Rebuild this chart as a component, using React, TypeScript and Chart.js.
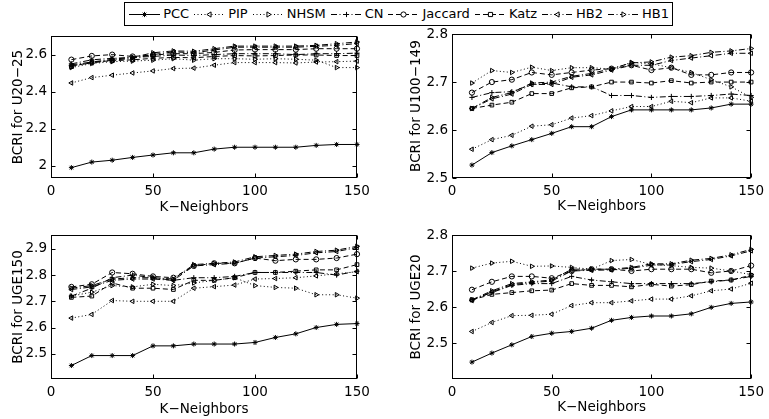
import React, { useEffect, useRef } from "react";
import { Chart, registerables } from "chart.js";

Chart.register(...registerables);

const FONT_FAMILY = "'DejaVu Sans', sans-serif";
const FONT_SIZE = 13.5;
const LEGEND_FONT_SIZE = 13;

// ---------------- DATA ----------------
const kNeighbors = [10, 20, 30, 40, 50, 60, 70, 80, 90, 100, 110, 120, 130, 140, 150];
const seriesNames = ["PCC", "PIP", "NHSM", "CN", "Jaccard", "Katz", "HB2", "HB1"];
const xTickValues = [0, 50, 100, 150];

// Panel 1: U20-25
const pccU20 = [1.99, 2.02, 2.03, 2.045, 2.058, 2.07, 2.07, 2.09, 2.1, 2.1, 2.1, 2.1, 2.11, 2.115, 2.115];
const pipU20 = [2.447, 2.476, 2.489, 2.501, 2.512, 2.525, 2.527, 2.543, 2.557, 2.557, 2.557, 2.555, 2.56, 2.562, 2.565];
const nhsmU20 = [2.53, 2.552, 2.562, 2.565, 2.57, 2.578, 2.57, 2.578, 2.578, 2.575, 2.578, 2.575, 2.57, 2.53, 2.53];
const cnU20 = [2.55, 2.572, 2.58, 2.585, 2.59, 2.598, 2.595, 2.6, 2.605, 2.605, 2.605, 2.6, 2.605, 2.605, 2.608];
const jaccardU20 = [2.573, 2.593, 2.6, 2.59, 2.598, 2.605, 2.605, 2.612, 2.625, 2.627, 2.627, 2.627, 2.632, 2.632, 2.632];
const katzU20 = [2.535, 2.56, 2.567, 2.572, 2.58, 2.585, 2.583, 2.59, 2.595, 2.593, 2.595, 2.598, 2.598, 2.595, 2.595];
const hb2U20 = [2.54, 2.555, 2.57, 2.58, 2.6, 2.615, 2.61, 2.625, 2.64, 2.64, 2.64, 2.64, 2.645, 2.65, 2.66];
const hb1U20 = [2.545, 2.56, 2.575, 2.585, 2.61, 2.62, 2.618, 2.632, 2.646, 2.646, 2.646, 2.646, 2.65, 2.659, 2.668];
const yTicksU20 = [2, 2.2, 2.4, 2.6];

// Panel 2: U100-149
const pccU100 = [2.527, 2.553, 2.567, 2.58, 2.593, 2.607, 2.607, 2.628, 2.642, 2.642, 2.642, 2.642, 2.646, 2.654, 2.654];
const pipU100 = [2.56, 2.58, 2.589, 2.608, 2.611, 2.625, 2.63, 2.64, 2.649, 2.649, 2.66, 2.657, 2.667, 2.667, 2.66];
const nhsmU100 = [2.698, 2.724, 2.72, 2.731, 2.724, 2.73, 2.73, 2.727, 2.741, 2.738, 2.73, 2.72, 2.705, 2.69, 2.668];
const cnU100 = [2.668, 2.678, 2.68, 2.695, 2.698, 2.69, 2.69, 2.672, 2.672, 2.668, 2.67, 2.67, 2.672, 2.675, 2.672];
const jaccardU100 = [2.678, 2.7, 2.705, 2.72, 2.715, 2.72, 2.725, 2.728, 2.735, 2.725, 2.73, 2.715, 2.715, 2.72, 2.72];
const katzU100 = [2.645, 2.652, 2.658, 2.676, 2.676, 2.688, 2.69, 2.7, 2.7, 2.698, 2.703, 2.698, 2.7, 2.7, 2.7];
const hb2U100 = [2.645, 2.665, 2.675, 2.695, 2.695, 2.71, 2.715, 2.725, 2.735, 2.735, 2.745, 2.75, 2.755, 2.76, 2.76];
const hb1U100 = [2.645, 2.668, 2.678, 2.698, 2.7, 2.712, 2.718, 2.728, 2.74, 2.742, 2.752, 2.755, 2.762, 2.765, 2.77];
const yTicksU100 = [2.5, 2.6, 2.7, 2.8];

// Panel 3: UGE150
const pccUGE150 = [2.455, 2.493, 2.493, 2.493, 2.53, 2.53, 2.537, 2.537, 2.537, 2.543, 2.562, 2.576, 2.6, 2.612, 2.615];
const pipUGE150 = [2.636, 2.65, 2.703, 2.7, 2.7, 2.7, 2.75, 2.756, 2.762, 2.785, 2.787, 2.79, 2.797, 2.805, 2.813];
const nhsmUGE150 = [2.72, 2.735, 2.76, 2.755, 2.765, 2.76, 2.77, 2.78, 2.79, 2.76, 2.753, 2.75, 2.725, 2.725, 2.712];
const cnUGE150 = [2.72, 2.75, 2.79, 2.8, 2.79, 2.78, 2.79, 2.79, 2.795, 2.81, 2.81, 2.81, 2.81, 2.8, 2.815];
const jaccardUGE150 = [2.755, 2.765, 2.81, 2.805, 2.795, 2.79, 2.835, 2.845, 2.845, 2.865, 2.855, 2.86, 2.86, 2.865, 2.88];
const katzUGE150 = [2.715, 2.72, 2.77, 2.75, 2.75, 2.745, 2.78, 2.78, 2.79, 2.81, 2.81, 2.815, 2.82, 2.82, 2.84];
const hb2UGE150 = [2.745, 2.755, 2.78, 2.785, 2.785, 2.78, 2.835, 2.84, 2.845, 2.865, 2.87, 2.875, 2.885, 2.89, 2.905];
const hb1UGE150 = [2.75, 2.76, 2.785, 2.79, 2.79, 2.785, 2.84, 2.845, 2.85, 2.87, 2.875, 2.88, 2.89, 2.895, 2.91];
const yTicksUGE150 = [2.5, 2.6, 2.7, 2.8, 2.9];

// Panel 4: UGE20
const pccUGE20 = [2.447, 2.472, 2.495, 2.518, 2.527, 2.532, 2.541, 2.563, 2.571, 2.575, 2.575, 2.581, 2.599, 2.61, 2.614];
const pipUGE20 = [2.532, 2.557, 2.576, 2.577, 2.58, 2.604, 2.612, 2.612, 2.617, 2.622, 2.622, 2.631, 2.645, 2.65, 2.666];
const nhsmUGE20 = [2.708, 2.722, 2.727, 2.713, 2.714, 2.71, 2.705, 2.729, 2.732, 2.718, 2.715, 2.71, 2.708, 2.7, 2.69];
const cnUGE20 = [2.62, 2.64, 2.66, 2.665, 2.665, 2.685, 2.675, 2.67, 2.665, 2.665, 2.665, 2.665, 2.67, 2.675, 2.685];
const jaccardUGE20 = [2.648, 2.67, 2.685, 2.685, 2.68, 2.7, 2.705, 2.705, 2.7, 2.705, 2.705, 2.705, 2.695, 2.7, 2.715];
const katzUGE20 = [2.62, 2.635, 2.64, 2.645, 2.647, 2.665, 2.66, 2.66, 2.656, 2.663, 2.658, 2.662, 2.672, 2.675, 2.688];
const hb2UGE20 = [2.618, 2.642, 2.662, 2.668, 2.672, 2.7, 2.702, 2.703, 2.708, 2.716, 2.718, 2.726, 2.732, 2.742, 2.756];
const hb1UGE20 = [2.62, 2.645, 2.665, 2.67, 2.675, 2.705, 2.705, 2.705, 2.71, 2.72, 2.72, 2.73, 2.735, 2.745, 2.76];
const yTicksUGE20 = [2.5, 2.6, 2.7, 2.8];

// ---------------- STYLES ----------------
type SeriesStyle = { dash: number[]; point: string; rot: number };
const seriesStyles: SeriesStyle[] = [
  { dash: [], point: "star", rot: 0 },
  { dash: [1, 2.5], point: "triangle", rot: 270 },
  { dash: [1, 2.5], point: "triangle", rot: 90 },
  { dash: [6, 2.5, 1, 2.5], point: "cross", rot: 0 },
  { dash: [5, 3], point: "circle", rot: 0 },
  { dash: [5, 3], point: "rect", rot: 0 },
  { dash: [6, 2.5, 1, 2.5], point: "triangle", rot: 270 },
  { dash: [6, 2.5, 1, 2.5], point: "triangle", rot: 90 },
];

type Geo = {
  cx: number; cy: number; w: number; h: number;
  L: number; T: number; R: number; B: number;
  yTitleX: number; xTitleY: number;
};

type Panel = {
  yLabel: string;
  yMin: number;
  yMax: number;
  yTicks: number[];
  values: number[][];
  geo: Geo;
};

const panels: Panel[] = [
  {
    yLabel: "BCRI for U20\u221225",
    yMin: 1.934, yMax: 2.7, yTicks: yTicksU20,
    values: [pccU20, pipU20, nhsmU20, cnU20, jaccardU20, katzU20, hb2U20, hb1U20],
    geo: { cx: 0, cy: 24, w: 376, h: 192, L: 51, T: 36, R: 357, B: 178, yTitleX: 18.5, xTitleY: 207.5 },
  },
  {
    yLabel: "BCRI for U100\u2212149",
    yMin: 2.5, yMax: 2.8, yTicks: yTicksU100,
    values: [pccU100, pipU100, nhsmU100, cnU100, jaccardU100, katzU100, hb2U100, hb1U100],
    geo: { cx: 378, cy: 22, w: 391, h: 194, L: 452, T: 33, R: 756, B: 178, yTitleX: 416.5, xTitleY: 206.7 },
  },
  {
    yLabel: "BCRI for UGE150",
    yMin: 2.4036, yMax: 2.953, yTicks: yTicksUGE150,
    values: [pccUGE150, pipUGE150, nhsmUGE150, cnUGE150, jaccardUGE150, katzUGE150, hb2UGE150, hb1UGE150],
    geo: { cx: 0, cy: 222, w: 376, h: 197, L: 51, T: 235, R: 357, B: 379, yTitleX: 18.5, xTitleY: 409 },
  },
  {
    yLabel: "BCRI for UGE20",
    yMin: 2.4, yMax: 2.8, yTicks: yTicksUGE20,
    values: [pccUGE20, pipUGE20, nhsmUGE20, cnUGE20, jaccardUGE20, katzUGE20, hb2UGE20, hb1UGE20],
    geo: { cx: 378, cy: 222, w: 391, h: 197, L: 452, T: 235, R: 756, B: 379, yTitleX: 416.5, xTitleY: 407 },
  },
];

const boxPlugin = {
  id: "matlabBox",
  afterDatasetsDraw(chart: any) {
    const { ctx, chartArea } = chart;
    const { left, right, top, bottom } = chartArea;
    const xs = chart.scales.x;
    const ys = chart.scales.y;
    ctx.save();
    ctx.setLineDash([]);
    ctx.strokeStyle = "#000";
    ctx.lineWidth = 1;
    const l = Math.round(left) + 0.5;
    const r = Math.round(right) - 0.5;
    const t = Math.round(top) + 0.5;
    const b = Math.round(bottom) - 0.5;
    ctx.strokeRect(l, t, r - l, b - t);
    const tl = 4;
    ctx.beginPath();
    xs.ticks.forEach((tk: any) => {
      const px = Math.round(xs.getPixelForValue(tk.value)) + 0.5;
      ctx.moveTo(px, b);
      ctx.lineTo(px, b - tl);
      ctx.moveTo(px, t);
      ctx.lineTo(px, t + tl);
    });
    ys.ticks.forEach((tk: any) => {
      const py = Math.round(ys.getPixelForValue(tk.value)) + 0.5;
      ctx.moveTo(l, py);
      ctx.lineTo(l + tl, py);
      ctx.moveTo(r, py);
      ctx.lineTo(r - tl, py);
    });
    ctx.stroke();
    ctx.restore();
  },
};

function fmt(v: number): string {
  return String(Number(v.toFixed(2)));
}

function PanelChart({ panel }: { panel: Panel }) {
  const ref = useRef<HTMLCanvasElement | null>(null);
  useEffect(() => {
    if (!ref.current) return;
    const g = panel.geo;
    const font = { family: FONT_FAMILY, size: FONT_SIZE };
    const half = (FONT_SIZE * 1.2) / 2;
    const datasets = panel.values.map((vals, si) => {
      const st = seriesStyles[si];
      return {
        label: seriesNames[si],
        data: kNeighbors.map((x, i) => ({ x, y: vals[i] })),
        borderColor: "#000",
        borderWidth: 1,
        borderDash: st.dash,
        pointStyle: st.point,
        rotation: st.rot,
        pointRotation: st.rot,
        pointRadius: st.point === "star" ? 2.5 : 2.6,
        pointBackgroundColor: "rgba(0,0,0,0)",
        pointBorderColor: "#000",
        pointBorderWidth: 1,
        fill: false,
        tension: 0,
        clip: false,
      };
    });
    const chart = new Chart(ref.current, {
      type: "line",
      data: { datasets },
      options: {
        animation: false,
        responsive: false,
        devicePixelRatio: 1,
        events: [],
        layout: {
          padding: { left: 0, top: g.T - g.cy, right: g.cx + g.w - g.R, bottom: 0 },
        },
        plugins: { legend: { display: false }, tooltip: { enabled: false } },
        scales: {
          x: {
            type: "linear",
            min: 0,
            max: 150,
            afterBuildTicks: (s: any) => {
              s.ticks = xTickValues.map((value) => ({ value }));
            },
            afterFit: (s: any) => {
              s.height = g.cy + g.h - g.B;
            },
            grid: { display: false, drawTicks: false },
            border: { display: false },
            ticks: {
              font,
              color: "#000",
              padding: 5,
              maxRotation: 0,
              autoSkip: false,
              callback: (v: any) => fmt(Number(v)),
            },
            title: {
              display: true,
              text: "K\u2212Neighbors",
              font,
              color: "#000",
              padding: { top: 0, bottom: Math.max(0, g.cy + g.h - g.xTitleY - half) },
            },
          },
          y: {
            type: "linear",
            min: panel.yMin,
            max: panel.yMax,
            afterBuildTicks: (s: any) => {
              s.ticks = panel.yTicks.map((value) => ({ value }));
            },
            afterFit: (s: any) => {
              s.width = g.L - g.cx;
            },
            grid: { display: false, drawTicks: false },
            border: { display: false },
            ticks: {
              font,
              color: "#000",
              padding: 4,
              autoSkip: false,
              callback: (v: any) => fmt(Number(v)),
            },
            title: {
              display: true,
              text: panel.yLabel,
              font,
              color: "#000",
              padding: { top: Math.max(0, g.yTitleX - g.cx - half), bottom: 0 },
            },
          },
        },
      } as any,
      plugins: [boxPlugin],
    });
    return () => chart.destroy();
  }, [panel]);
  const g = panel.geo;
  return (
    <canvas
      ref={ref}
      width={g.w}
      height={g.h}
      style={{ position: "absolute", left: g.cx, top: g.cy, width: g.w, height: g.h }}
    />
  );
}

function drawLegendSample(c: HTMLCanvasElement, st: SeriesStyle) {
  const ctx = c.getContext("2d");
  if (!ctx) return;
  const w = c.width;
  const h = c.height;
  const y = Math.round(h / 2) + 0.5;
  ctx.clearRect(0, 0, w, h);
  ctx.strokeStyle = "#000";
  ctx.lineWidth = 1;
  ctx.setLineDash(st.dash);
  ctx.beginPath();
  ctx.moveTo(2, y);
  ctx.lineTo(w - 2, y);
  ctx.stroke();
  ctx.setLineDash([]);
  const cx = w / 2;
  const r = 2.6;
  ctx.fillStyle = "#fff";
  ctx.beginPath();
  if (st.point === "star") {
    ctx.moveTo(cx - r, y); ctx.lineTo(cx + r, y);
    ctx.moveTo(cx, y - r); ctx.lineTo(cx, y + r);
    const d = r * 0.707;
    ctx.moveTo(cx - d, y - d); ctx.lineTo(cx + d, y + d);
    ctx.moveTo(cx - d, y + d); ctx.lineTo(cx + d, y - d);
    ctx.stroke();
  } else if (st.point === "cross") {
    ctx.moveTo(cx - r, y); ctx.lineTo(cx + r, y);
    ctx.moveTo(cx, y - r); ctx.lineTo(cx, y + r);
    ctx.stroke();
  } else if (st.point === "circle") {
    ctx.arc(cx, y, r, 0, Math.PI * 2);
    ctx.fill();
    ctx.stroke();
  } else if (st.point === "rect") {
    ctx.rect(cx - r * 0.8, y - r * 0.8, r * 1.6, r * 1.6);
    ctx.fill();
    ctx.stroke();
  } else if (st.point === "triangle") {
    const dir = st.rot === 90 ? 1 : -1;
    ctx.moveTo(cx + dir * r, y);
    ctx.lineTo(cx - dir * r * 0.6, y - r);
    ctx.lineTo(cx - dir * r * 0.6, y + r);
    ctx.closePath();
    ctx.fill();
    ctx.stroke();
  }
}

function LegendItem({ name, st }: { name: string; st: SeriesStyle }) {
  const ref = useRef<HTMLCanvasElement | null>(null);
  useEffect(() => {
    if (ref.current) drawLegendSample(ref.current, st);
  }, [st]);
  return (
    <div style={{ display: "flex", alignItems: "center" }}>
      <canvas ref={ref} width={35} height={14} style={{ width: 35, height: 14 }} />
      <span style={{ marginLeft: 1, marginRight: 3, whiteSpace: "nowrap" }}>{name}</span>
    </div>
  );
}

export default function App() {
  return (
    <div
      style={{
        position: "absolute",
        left: 0,
        top: 0,
        width: 769,
        height: 419,
        background: "#fff",
        overflow: "hidden",
        fontFamily: FONT_FAMILY,
        fontSize: LEGEND_FONT_SIZE,
        color: "#000",
      }}
    >
      {panels.map((p, i) => (
        <PanelChart key={i} panel={p} />
      ))}
      <div
        style={{
          position: "absolute",
          right: 96,
          top: 2,
          height: 22,
          border: "1px solid #000",
          background: "#fff",
          display: "flex",
          alignItems: "center",
          paddingLeft: 2,
          paddingRight: 0,
          lineHeight: "16px",
        }}
      >
        {seriesNames.map((n, i) => (
          <LegendItem key={n} name={n} st={seriesStyles[i]} />
        ))}
      </div>
    </div>
  );
}
